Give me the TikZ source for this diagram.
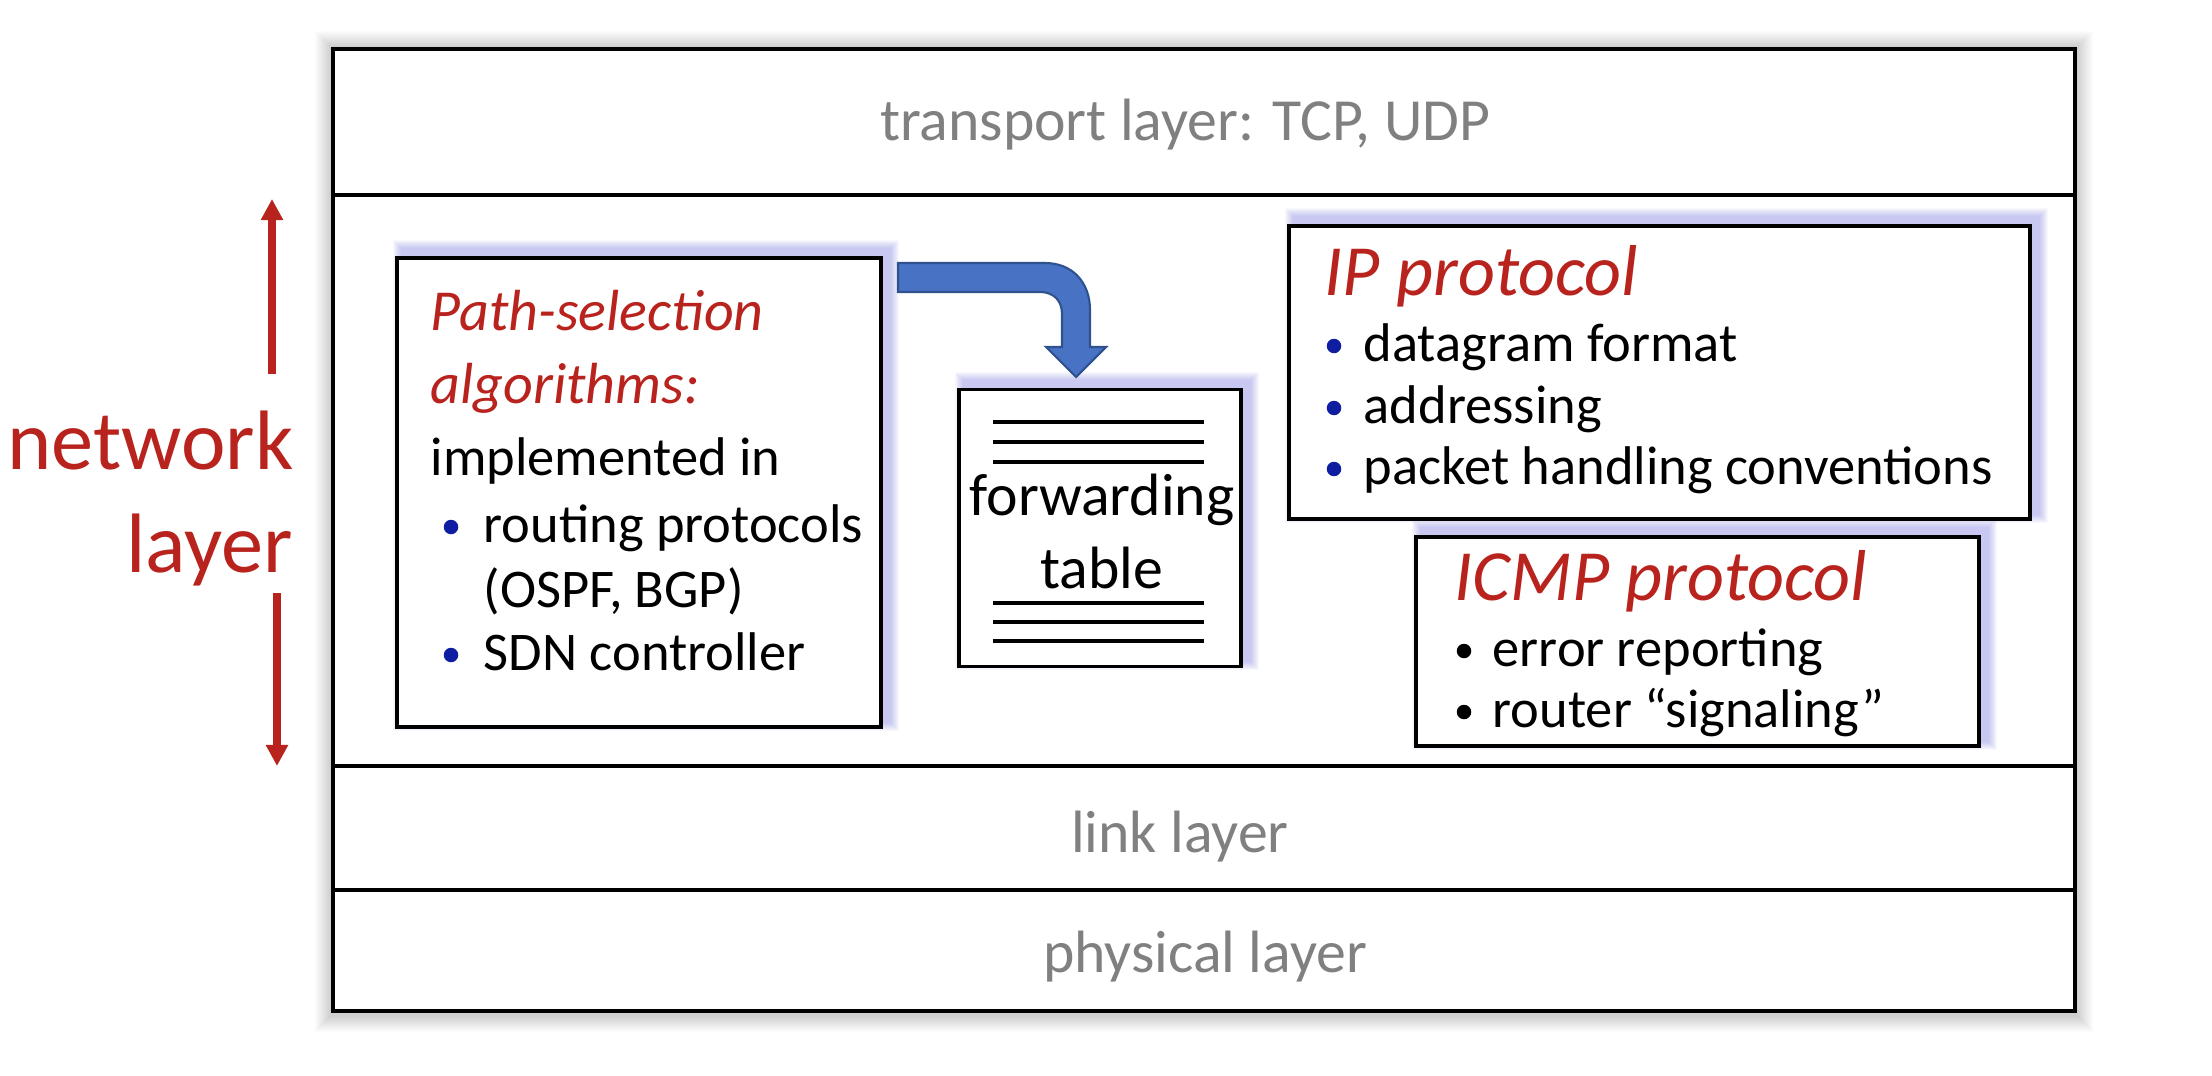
\documentclass[tikz,border=0pt]{standalone}
\usepackage{fontspec}
\setmainfont{Carlito}
\usetikzlibrary{arrows.meta,calc}
\definecolor{netred}{RGB}{185,35,30}
\definecolor{laygray}{RGB}{128,128,128}
\definecolor{bulblue}{RGB}{15,30,160}
\definecolor{arrfill}{RGB}{72,114,196}
\definecolor{arrdraw}{RGB}{47,82,143}
\definecolor{glowc}{RGB}{100,100,225}
\pgfdeclarelayer{bgA}
\pgfdeclarelayer{bgB}
\pgfsetlayers{bgA,bgB,main}
\newcommand{\boxglow}[1]{%
  \foreach \r in {1,...,9}{%
    \fill[glowc, opacity=0.045] ($(#1.north west)+(7-\r,-7-\r)$) rectangle ($(#1.south east)+(7+\r,-7+\r)$);
  }}
\tikzset{
  band/.style={draw=black, line width=0.9pt, rectangle, inner sep=0pt, minimum width=174.2mm},
  box/.style={draw=black, line width=0.9pt, fill=white, rectangle, inner sep=0pt},
  laytext/.style={text=laygray, font=\fontsize{17}{20}\selectfont, anchor=base, inner sep=0pt},
  bodytext/.style={font=\fontsize{15.5}{18}\selectfont, anchor=base west, inner sep=0pt},
  headtext/.style={text=netred, font=\fontsize{16.5}{20}\selectfont\itshape, anchor=base west, inner sep=0pt},
  bighead/.style={text=netred, font=\fontsize{20.5}{24}\selectfont\itshape, anchor=base west, inner sep=0pt},
  bul/.style={circle, fill=#1, inner sep=0pt, minimum size=1.45mm},
  nettext/.style={text=netred, font=\fontsize{24}{28}\selectfont, anchor=base east, inner sep=0pt},
  tabline/.style={line width=1pt},
  redarrow/.style={draw=netred, line width=2pt, -{Triangle[width=6pt,length=6pt]}},
}
\begin{document}
\begin{tikzpicture}[x=0.1mm,y=-0.1mm]
\useasboundingbox (0,0) rectangle (2212,1076);

% layer bands
\node[band, minimum height=14.6mm] (transport) at (1204,122) {};
\node[band, minimum height=57.1mm] (network) at (1204,480.5) {};
\node[band, minimum height=12.4mm] (link) at (1204,828) {};
\node[band, minimum height=12.1mm] (physical) at (1204,950.5) {};

\begin{pgfonlayer}{bgA}
  \fill[white] (0,0) rectangle (2212,1076);
  \foreach \r in {1,...,16}{%
    \fill[black, opacity=0.012] ($(transport.north west)+(-\r,-\r)$) rectangle ($(physical.south east)+(\r,\r+3)$);
  }
  \fill[white] (transport.north west) rectangle (physical.south east);
\end{pgfonlayer}

\node[laytext] (transportlbl) at (1185,141) {transport layer: TCP, UDP};
\node[laytext] (linklbl) at (1180,852) {link layer};
\node[laytext] (physlbl) at (1205,972) {physical layer};

% network layer label and arrows
\node[nettext] (netw) at (294,469) {network};
\node[nettext] (netl) at (294,572) {layer};
\coordinate (uptop) at (272,199);
\coordinate (upbot) at (272,374);
\coordinate (dntop) at (277,593);
\coordinate (dnbot) at (277,766);
\draw[redarrow] (upbot) -- (uptop);
\draw[redarrow] (dntop) -- (dnbot);

% boxes
\node[box, minimum width=48.4mm, minimum height=46.9mm] (path) at (639,492.5) {};
\node[box, minimum width=28.2mm, minimum height=27.7mm] (fwd) at (1100,528) {};
\node[box, minimum width=74.1mm, minimum height=29.3mm] (ip) at (1659.5,372.5) {};
\node[box, minimum width=56.3mm, minimum height=20.9mm] (icmp) at (1697.5,641.5) {};

\begin{pgfonlayer}{bgB}
  \boxglow{path}
  \boxglow{fwd}
  \boxglow{ip}
  \boxglow{icmp}
\end{pgfonlayer}

% path-selection text
\node[headtext] (ps1) at (430,330) {Path-selection};
\node[headtext] (ps2) at (430,403) {algorithms:};
\node[bodytext] (ps3) at (430,475) {implemented in};
\node[bul=bulblue] (psb1) at (451,527) {};
\node[bodytext] (ps4) at (483,542) {routing protocols};
\node[bodytext] (ps5) at (483,607) {(OSPF, BGP)};
\node[bul=bulblue] (psb2) at (451,655) {};
\node[bodytext] (ps6) at (483,670) {SDN controller};

% forwarding table
\foreach \yy in {422,442,462,603,622,641}{
  \draw[tabline] (993,\yy) -- (1204,\yy);
}
\node[bodytext, anchor=base, font=\fontsize{17}{20}\selectfont] (fwd1) at (1102,515) {forwarding};
\node[bodytext, anchor=base, font=\fontsize{17}{20}\selectfont] (fwd2) at (1102,588) {table};

% bent block arrow
\filldraw[fill=arrfill, draw=arrdraw, line width=0.6pt]
  (898,263) -- (1045,263) .. controls (1072,263) and (1090,282) .. (1090,310)
  -- (1090,347) -- (1106,347) -- (1076,377) -- (1046,347) -- (1062,347)
  -- (1062,314) .. controls (1062,300) and (1053,292) .. (1040,292)
  -- (898,292) -- cycle;

% IP protocol
\node[bighead] (iph) at (1324,296) {IP protocol};
\node[bul=bulblue] (ipb1) at (1334,346) {};
\node[bodytext] (ip1) at (1363,361) {datagram format};
\node[bul=bulblue] (ipb2) at (1334,408) {};
\node[bodytext] (ip2) at (1363,423) {addressing};
\node[bul=bulblue] (ipb3) at (1334,469) {};
\node[bodytext] (ip3) at (1363,484) {packet handling conventions};

% ICMP protocol
\node[bighead] (icmph) at (1454,600) {ICMP protocol};
\node[bul=black] (icb1) at (1464,651) {};
\node[bodytext] (ic1) at (1492,666) {error reporting};
\node[bul=black] (icb2) at (1464,712) {};
\node[bodytext] (ic2) at (1492,727) {router “signaling”};
\end{tikzpicture}
\end{document}
